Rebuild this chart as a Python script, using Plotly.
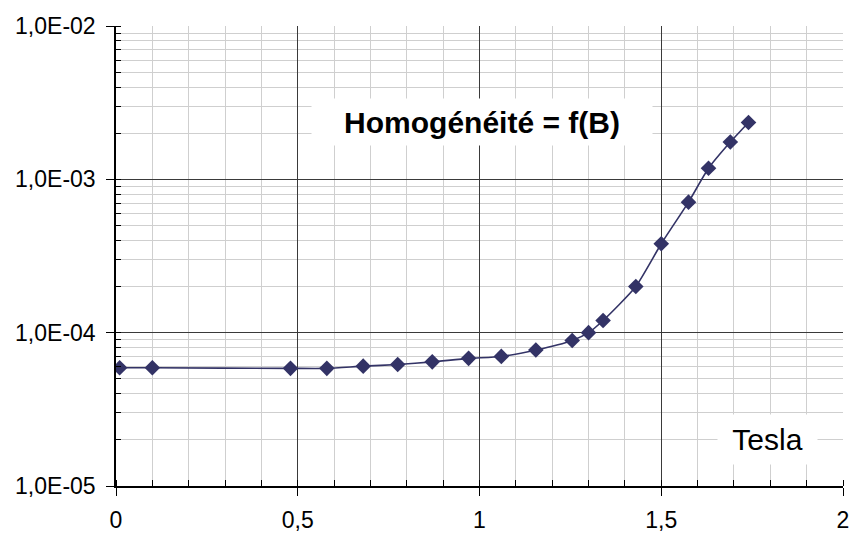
import plotly.graph_objects as go

# Field (Tesla) and measured homogeneity
b_tesla = [0.01, 0.10, 0.48, 0.58, 0.68, 0.775, 0.87, 0.97, 1.06, 1.155,
           1.255, 1.30, 1.34, 1.43, 1.50, 1.575, 1.63, 1.69, 1.74]
homogeneity = [5.9e-5, 5.9e-5, 5.85e-5, 5.85e-5, 6.05e-5, 6.2e-5, 6.45e-5,
               6.8e-5, 7.0e-5, 7.7e-5, 8.9e-5, 1.0e-4, 1.2e-4, 2.0e-4,
               3.8e-4, 7.1e-4, 1.18e-3, 1.75e-3, 2.35e-3]

y_tick_vals = [1e-5, 1e-4, 1e-3, 1e-2]
y_tick_text = ["1,0E-05", "1,0E-04", "1,0E-03", "1,0E-02"]
x_tick_vals = [0, 0.5, 1, 1.5, 2]
x_tick_text = ["0", "0,5", "1", "1,5", "2"]

title_text = "Homogénéité = f(B)"
unit_text = "Tesla"

line_color = "#333366"
major_grid = "#3a3a3a"
minor_grid = "#cfcfcf"
font_family = "Liberation Sans, Arial, sans-serif"

fig = go.Figure()
fig.add_trace(go.Scatter(
    x=b_tesla, y=homogeneity,
    mode="lines+markers",
    line=dict(color=line_color, width=1.6, shape="spline", smoothing=0.6),
    marker=dict(symbol="diamond", size=12, color=line_color,
                line=dict(color=line_color, width=0)),
    showlegend=False,
))

fig.update_layout(
    width=852, height=536,
    margin=dict(l=116, r=9, t=26, b=50),
    paper_bgcolor="white", plot_bgcolor="white",
    font=dict(family=font_family, color="black", size=23),
    annotations=[
        dict(text="<b>" + title_text + "</b>", xref="paper", yref="paper",
             x=0.503, y=0.791, xanchor="center", yanchor="middle",
             showarrow=False, bgcolor="white", width=338, height=44,
             font=dict(size=30, family=font_family, color="black")),
        dict(text=unit_text, xref="paper", yref="paper",
             x=0.8955, y=0.101, xanchor="center", yanchor="middle",
             showarrow=False, bgcolor="white", width=97, height=47,
             font=dict(size=30, family=font_family, color="black")),
    ],
)

fig.update_xaxes(
    range=[0, 2], automargin=False,
    tickmode="array", tickvals=x_tick_vals, ticktext=x_tick_text,
    ticks="outside", ticklen=8, tickwidth=1, tickcolor="black",
    ticklabelstandoff=5,
    showline=True, linecolor="black", linewidth=1.5,
    showgrid=True, gridcolor=major_grid, gridwidth=1,
    zeroline=False,
    minor=dict(dtick=0.1, tick0=0, showgrid=True, gridcolor=minor_grid,
               gridwidth=1, ticks="inside", ticklen=6, tickcolor="black"),
    tickfont=dict(size=23, family=font_family),
)

fig.update_yaxes(
    type="log", range=[-5, -2], automargin=False,
    tickmode="array", tickvals=y_tick_vals, ticktext=y_tick_text,
    ticks="outside", ticklen=8, tickwidth=1, tickcolor="black",
    ticklabelstandoff=6,
    showline=True, linecolor="black", linewidth=1.5,
    showgrid=True, gridcolor=major_grid, gridwidth=1,
    zeroline=False,
    minor=dict(dtick="D1", showgrid=True, gridcolor=minor_grid,
               gridwidth=1, ticks="inside", ticklen=5, tickcolor="black"),
    tickfont=dict(size=23, family=font_family),
)

fig.write_html("out.html")
